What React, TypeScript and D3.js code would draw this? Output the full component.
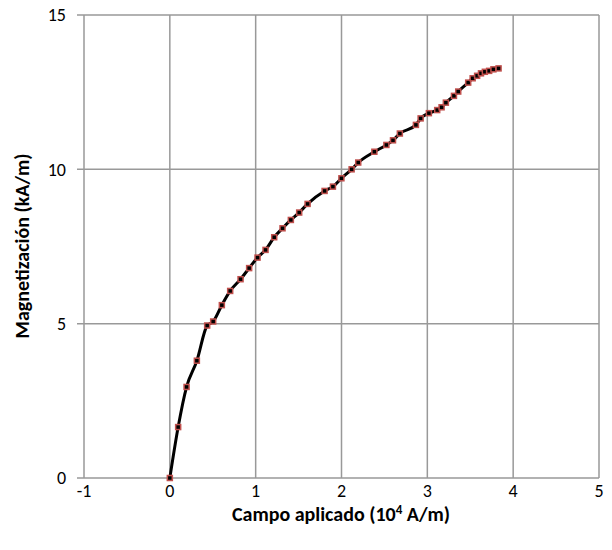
import React from "react";
import * as d3 from "d3";

// applied field (10^4 A/m)
const fieldValues = [
  0, 0.097, 0.195, 0.315, 0.435, 0.505, 0.606, 0.703, 0.824, 0.924, 1.022, 1.115,
  1.216, 1.313, 1.41, 1.507, 1.605, 1.803, 1.9, 1.999, 2.118, 2.195, 2.383, 2.523,
  2.6, 2.68, 2.867, 2.922, 3.018, 3.115, 3.166, 3.216, 3.31, 3.36, 3.476, 3.528,
  3.58, 3.625, 3.67, 3.72, 3.77, 3.83,
];
// magnetization (kA/m)
const magnetization = [
  0, 1.65, 2.95, 3.8, 4.94, 5.07, 5.6, 6.06, 6.44, 6.8, 7.14, 7.39,
  7.8, 8.09, 8.36, 8.6, 8.88, 9.3, 9.44, 9.71, 10.0, 10.22, 10.57, 10.79,
  10.94, 11.16, 11.44, 11.65, 11.82, 11.92, 12.01, 12.16, 12.38, 12.52, 12.81, 12.95,
  13.03, 13.11, 13.16, 13.19, 13.24, 13.27,
];
const xTicks = [-1, 0, 1, 2, 3, 4, 5];
const yTicks = [0, 5, 10, 15];

const W = 612;
const H = 550;
const left = 84;
const right = 599;
const top = 15;
const bottom = 478;
const font = "Carlito, 'Open Sans', 'Liberation Sans', sans-serif";

const App = () => {
  const x = d3.scaleLinear().domain([-1, 5]).range([left, right]);
  const y = d3.scaleLinear().domain([0, 15]).range([bottom, top]);

  const points = fieldValues.map((f, i) => [f, magnetization[i]] as [number, number]);
  const line = d3
    .line<[number, number]>()
    .x((d) => x(d[0]))
    .y((d) => y(d[1]))
    .curve(d3.curveMonotoneX);

  return (
    <svg width={W} height={H} style={{ position: "absolute", left: 0, top: 0 }}>
      <rect width={W} height={H} fill="#fff" />
      {/* grid */}
      {xTicks.map((t) => (
        <line key={"gx" + t} x1={x(t)} x2={x(t)} y1={top} y2={bottom} stroke="#999" strokeWidth={1.5} />
      ))}
      {yTicks.map((t) => (
        <line key={"gy" + t} x1={left - 7} x2={right} y1={y(t)} y2={y(t)} stroke="#999" strokeWidth={1.5} />
      ))}

      {/* tick labels */}
      {yTicks.map((t) => (
        <text key={"ly" + t} x={left - 18} y={y(t)} dy="0.35em" textAnchor="end" fontSize={18} fontFamily={font} fill="#000">
          {t}
        </text>
      ))}
      {xTicks.map((t) => (
        <text key={"lx" + t} x={x(t)} y={491} dy="0.35em" textAnchor="middle" fontSize={18} fontFamily={font} fill="#000">
          {t}
        </text>
      ))}

      {/* series */}
      <path d={line(points) ?? ""} fill="none" stroke="#000" strokeWidth={3} strokeLinejoin="round" />
      {points.map((d, i) => (
        <rect
          key={i}
          x={x(d[0]) - 2.5}
          y={y(d[1]) - 2.5}
          width={5}
          height={5}
          fill="#000"
          stroke="#c0504d"
          strokeWidth={1.5}
        />
      ))}

      {/* axis titles */}
      <text x={341} y={514} dy="0.35em" textAnchor="middle" fontSize={20} fontWeight="bold" fontFamily={font} fill="#000">
        Campo aplicado (10
        <tspan fontSize={13} dy={-7}>4</tspan>
        <tspan dy={7}> A/m)</tspan>
      </text>
      <text
        transform={`translate(22,246) rotate(-90)`}
        dy="0.35em"
        textAnchor="middle"
        fontSize={20}
        fontWeight="bold"
        fontFamily={font}
        fill="#000"
      >
        Magnetización (kA/m)
      </text>
    </svg>
  );
};

export default App;
